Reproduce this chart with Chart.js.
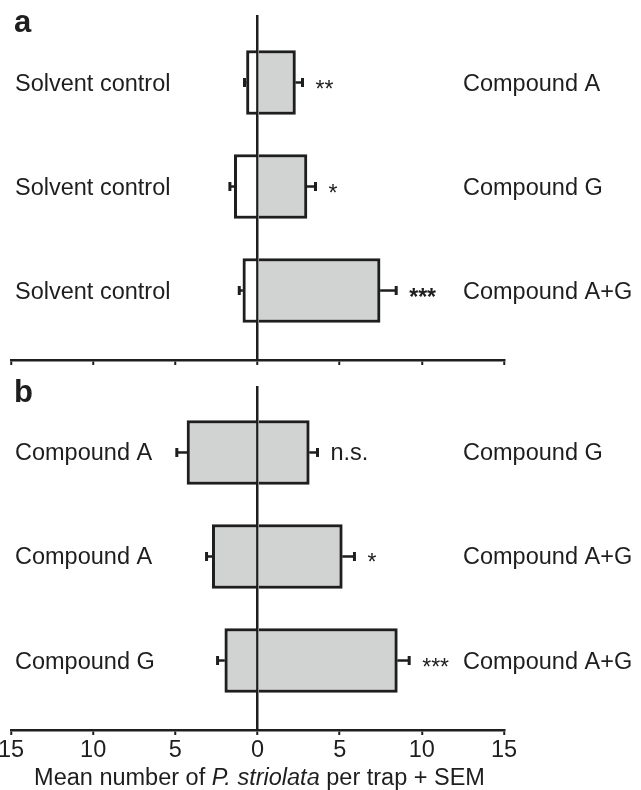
<!DOCTYPE html>
<html>
<head>
<meta charset="utf-8">
<script src="https://cdn.jsdelivr.net/npm/chart.js@4.4.1/dist/chart.umd.min.js"></script>
<style>
  body { margin: 0; background: #fff; }
  canvas { position: absolute; left: 0; }
  #chartA { top: 0; }
  #chartB { top: 372px; }
</style>
</head>
<body>
<canvas id="chartA" width="641" height="372"></canvas>
<canvas id="chartB" width="641" height="418"></canvas>
<script>
// Panel a: solvent control (left) vs compound (right)
const aLeftLabels = ['Solvent control', 'Solvent control', 'Solvent control'];
const aRightLabels = ['Compound A', 'Compound G', 'Compound A+G'];
const aLeftMeans = [0.67, 1.41, 0.89];
const aLeftSem = [0.12, 0.27, 0.22];
const aRightMeans = [2.31, 3.01, 7.46];
const aRightSem = [0.43, 0.52, 0.98];
const aSignif = ['**', '*', '***'];

// Panel b: compound vs compound
const bLeftLabels = ['Compound A', 'Compound A', 'Compound G'];
const bRightLabels = ['Compound G', 'Compound A+G', 'Compound A+G'];
const bLeftMeans = [4.29, 2.75, 1.99];
const bLeftSem = [0.62, 0.35, 0.44];
const bRightMeans = [3.15, 5.16, 8.51];
const bRightSem = [0.50, 0.74, 0.72];
const bSignif = ['n.s.', '*', '***'];

const xTicks = [-15, -10, -5, 0, 5, 10, 15];
const titleParts = [['Mean number of ', false], ['P. striolata', true], [' per trap + SEM', false]];

const FONT = "'Liberation Sans', Arial, Helvetica, sans-serif";
const INK = '#1e1e1e';
const GREY = '#d1d3d2';

function buildPanel(canvasId, p) {
    const rows = p.leftLabels.map((_, i) => i);

    const rowText = {
        id: 'rowText',
        afterDatasetsDraw(chart) {
            const { ctx, scales: { x, y } } = chart;
            ctx.save();
            ctx.strokeStyle = INK;
            ctx.fillStyle = INK;
            rows.forEach(i => {
                const yc = y.getPixelForValue(i);
                // error bars (one side only, away from zero)
                const ends = [
                    [-p.leftMeans[i], -p.leftMeans[i] - p.leftSem[i]],
                    [p.rightMeans[i], p.rightMeans[i] + p.rightSem[i]]
                ];
                ends.forEach(([a, b]) => {
                    const xa = x.getPixelForValue(a), xb = x.getPixelForValue(b);
                    ctx.lineWidth = 2.5;
                    ctx.beginPath(); ctx.moveTo(xa, yc); ctx.lineTo(xb, yc); ctx.stroke();
                    ctx.lineWidth = 3;
                    ctx.beginPath(); ctx.moveTo(xb, yc - 4.5); ctx.lineTo(xb, yc + 4.5); ctx.stroke();
                });

                ctx.textAlign = 'left';
                ctx.textBaseline = 'alphabetic';
                ctx.font = '23.5px ' + FONT;
                ctx.fillText(p.leftLabels[i], 15, yc + 8);
                ctx.fillText(p.rightLabels[i], 463, yc + 8);

                const sx = x.getPixelForValue(p.rightMeans[i] + p.rightSem[i]) + 13;
                const s = p.signif[i];
                if (s.includes('*')) {
                    ctx.font = (p.boldStars[i] ? 'bold ' : '') + '23px ' + FONT;
                    ctx.fillText(s, sx, yc + 14);
                } else {
                    ctx.font = '23.5px ' + FONT;
                    ctx.fillText(s, sx, yc + 8);
                }
            });

            ctx.font = 'bold 31px ' + FONT;
            ctx.fillText(p.heading, 14, p.headingBase);

            if (p.title) {
                const cx = x.getPixelForValue(0) + 2;
                const fonts = titleParts.map(([t, it]) => (it ? 'italic ' : '') + '23.5px ' + FONT);
                let total = 0;
                titleParts.forEach(([t], k) => { ctx.font = fonts[k]; total += ctx.measureText(t).width; });
                let tx = cx - total / 2;
                titleParts.forEach(([t], k) => {
                    ctx.font = fonts[k];
                    ctx.fillText(t, tx, p.titleBase);
                    tx += ctx.measureText(t).width;
                });
            }
            ctx.restore();
        }
    };

    const barStyle = {
        borderColor: INK,
        borderWidth: 3,
        borderSkipped: 'start',
        barThickness: 64,
        grouped: false
    };

    return new Chart(document.getElementById(canvasId), {
        type: 'bar',
        data: {
            datasets: [
                Object.assign({ data: rows.map(i => ({ x: -p.leftMeans[i], y: i })), backgroundColor: p.leftFill }, barStyle),
                Object.assign({ data: rows.map(i => ({ x: p.rightMeans[i], y: i })), backgroundColor: GREY }, barStyle)
            ]
        },
        options: {
            indexAxis: 'y',
            responsive: false,
            animation: false,
            layout: { padding: { top: p.padTop, left: 11, right: 137, bottom: 0 } },
            plugins: { legend: { display: false }, tooltip: { enabled: false } },
            scales: {
                y: {
                    type: 'linear',
                    reverse: true,
                    offset: false,
                    min: p.yMin,
                    max: p.yMax,
                    display: false
                },
                x: {
                    type: 'linear',
                    z: 1,
                    min: xTicks[0],
                    max: xTicks[xTicks.length - 1],
                    afterBuildTicks: s => { s.ticks = xTicks.map(v => ({ value: v })); },
                    ticks: {
                        display: p.showTicks,
                        color: INK,
                        padding: 1,
                        font: { family: FONT, size: 23.5 },
                        callback: v => Math.abs(v)
                    },
                    grid: {
                        color: c => (c.tick && c.tick.value === 0 ? INK : 'rgba(0,0,0,0)'),
                        lineWidth: 2.5,
                        drawTicks: true,
                        tickLength: 5,
                        tickColor: INK,
                        tickWidth: 2
                    },
                    border: { display: true, color: INK, width: 2.5 },
                    afterFit: s => { s.height = p.axisHeight; s.paddingLeft = 0; s.paddingRight = 0; }
                }
            }
        },
        plugins: [rowText]
    });
}

buildPanel('chartA', {
    leftLabels: aLeftLabels, rightLabels: aRightLabels,
    leftMeans: aLeftMeans, leftSem: aLeftSem,
    rightMeans: aRightMeans, rightSem: aRightSem,
    signif: aSignif, boldStars: [false, false, true],
    leftFill: '#ffffff', heading: 'a', headingBase: 32,
    padTop: 15, axisHeight: 12, yMin: -0.649, yMax: 2.668,
    showTicks: false, title: false
});

buildPanel('chartB', {
    leftLabels: bLeftLabels, rightLabels: bRightLabels,
    leftMeans: bLeftMeans, leftSem: bLeftSem,
    rightMeans: bRightMeans, rightSem: bRightSem,
    signif: bSignif, boldStars: [false, false, false],
    leftFill: GREY, heading: 'b', headingBase: 30,
    padTop: 14, axisHeight: 60, yMin: -0.639, yMax: 2.668,
    showTicks: true, title: true, titleBase: 413
});
</script>
</body>
</html>
